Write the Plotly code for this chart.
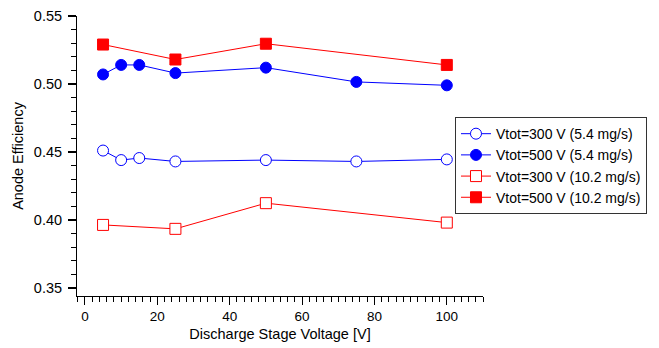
import plotly.graph_objects as go

# Data
x_300_54 = [5, 10, 15, 25, 50, 75, 100]
y_300_54 = [0.451, 0.444, 0.4455, 0.443, 0.444, 0.443, 0.4445]
x_500_54 = [5, 10, 15, 25, 50, 75, 100]
y_500_54 = [0.507, 0.514, 0.514, 0.508, 0.512, 0.5015, 0.499]
x_300_102 = [5, 25, 50, 100]
y_300_102 = [0.3963, 0.3934, 0.4123, 0.398]
x_500_102 = [5, 25, 50, 100]
y_500_102 = [0.5290, 0.518, 0.5296, 0.514]

names = ["Vtot=300 V (5.4 mg/s)", "Vtot=500 V (5.4 mg/s)",
         "Vtot=300 V (10.2 mg/s)", "Vtot=500 V (10.2 mg/s)"]
x_ticks = [0, 20, 40, 60, 80, 100]
y_ticks = [0.35, 0.40, 0.45, 0.50, 0.55]

BLUE = "#0000FF"
RED = "#FF0000"
FONT = "Liberation Sans, Arial, sans-serif"

fig = go.Figure()
fig.add_trace(go.Scatter(x=x_300_54, y=y_300_54, name=names[0], mode="lines+markers",
                         line=dict(color=BLUE, width=1),
                         marker=dict(symbol="circle", size=11, color="white",
                                     line=dict(color=BLUE, width=1))))
fig.add_trace(go.Scatter(x=x_500_54, y=y_500_54, name=names[1], mode="lines+markers",
                         line=dict(color=BLUE, width=1),
                         marker=dict(symbol="circle", size=11, color=BLUE,
                                     line=dict(color=BLUE, width=1))))
fig.add_trace(go.Scatter(x=x_300_102, y=y_300_102, name=names[2], mode="lines+markers",
                         line=dict(color=RED, width=1),
                         marker=dict(symbol="square", size=11, color="white",
                                     line=dict(color=RED, width=1))))
fig.add_trace(go.Scatter(x=x_500_102, y=y_500_102, name=names[3], mode="lines+markers",
                         line=dict(color=RED, width=1),
                         marker=dict(symbol="square", size=11, color=RED,
                                     line=dict(color=RED, width=1))))

fig.update_layout(
    width=659, height=348,
    margin=dict(l=77, r=176, t=16, b=52, autoexpand=False),
    paper_bgcolor="white", plot_bgcolor="white",
    font=dict(family=FONT, size=14, color="black"),
    showlegend=True,
    legend=dict(x=0.931, y=0.639, xanchor="left", yanchor="top",
                bordercolor="#333333", borderwidth=1, bgcolor="white",
                font=dict(family=FONT, size=14),
                tracegroupgap=0),
    xaxis=dict(range=[-2.2, 110], tickvals=x_ticks,
               showgrid=False, zeroline=False, showline=True, linecolor="black",
               linewidth=1, ticks="outside", ticklen=8, tickwidth=1, tickcolor="black",
               tickfont=dict(size=13.5),
               minor=dict(ticks="outside", ticklen=5, dtick=2, tick0=0,
                          tickcolor="black", tickwidth=1, showgrid=False),
               title=dict(text="Discharge Stage Voltage [V]", font=dict(size=14.5), standoff=5)),
    yaxis=dict(range=[0.344, 0.55], tickvals=y_ticks,
               tickformat=".2f",
               showgrid=False, zeroline=False, showline=True, linecolor="black",
               linewidth=1, ticks="outside", ticklen=8, tickwidth=2, tickcolor="black",
               tickfont=dict(size=14.5), ticklabelstandoff=3,
               minor=dict(ticks="outside", ticklen=5, dtick=0.01, tick0=0.35,
                          tickcolor="black", tickwidth=1, showgrid=False),
               title=dict(text="Anode Efficiency", font=dict(size=14.5), standoff=6)),
)

fig.write_html("out.html", config={"displayModeBar": False},
               post_script="document.body.style.margin='0';")
